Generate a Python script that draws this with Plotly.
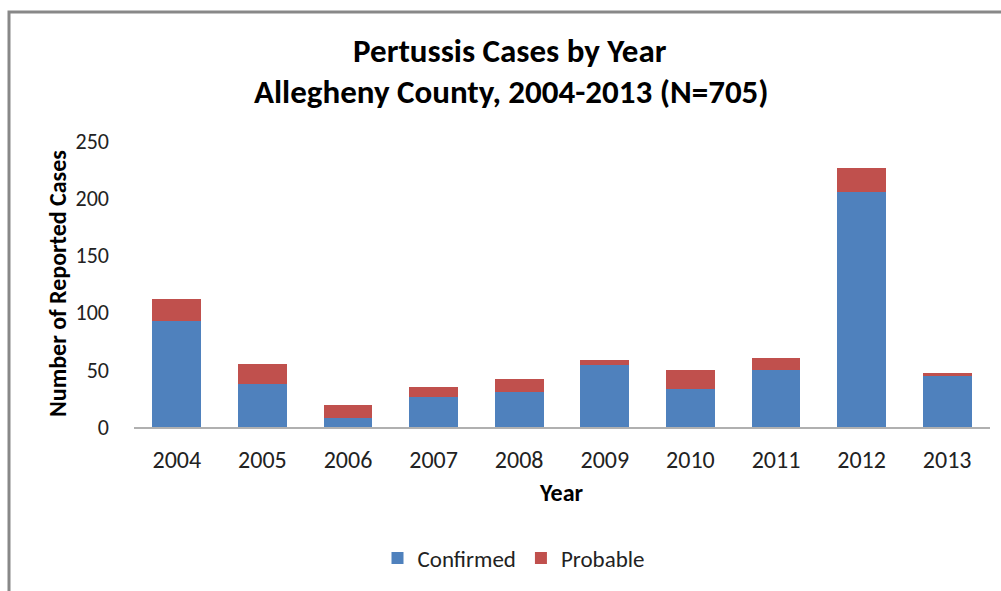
import plotly.graph_objects as go

years = ["2004", "2005", "2006", "2007", "2008", "2009", "2010", "2011", "2012", "2013"]
confirmed = [93, 38, 8, 26, 31, 54, 33, 50, 205, 45]
probable = [19, 17, 11, 9, 11, 5, 17, 10, 21, 2]
y_ticks = [0, 50, 100, 150, 200, 250]

FONT = "Calibri, Carlito, Lato, sans-serif"
BLUE = "#4F81BD"
RED = "#C0504D"

fig = go.Figure()
fig.add_trace(go.Bar(x=years, y=confirmed, name="Confirmed", marker=dict(color=BLUE, line=dict(width=0))))
fig.add_trace(go.Bar(x=years, y=probable, name="Probable", marker=dict(color=RED, line=dict(width=0))))

OFF = 0  # page body margin removed via post_script
W, H = 1001, 591
L, T = 134 - OFF, 141 - OFF
R = (OFF + W) - 990
B = (OFF + H) - 429
pw = W - L - R
ph = H - T - B

def px(x):
    return (x - OFF - L) / pw

def py(y):
    return (OFF + H - B - y) / ph

fig.update_layout(
    width=W, height=H,
    margin=dict(l=L, r=R, t=T, b=B, pad=0),
    barmode="stack",
    bargap=0.43,
    plot_bgcolor="white",
    paper_bgcolor="white",
    font=dict(family=FONT, size=22, color="#222222"),
    showlegend=True,
    legend=dict(orientation="h", x=px(514), xanchor="center", y=py(561), yanchor="middle",
                font=dict(family=FONT, size=23, color="#222222"), itemwidth=30,
                traceorder="normal"),
    xaxis=dict(showline=True, linecolor="#B0B0B0", linewidth=2, ticks="", showgrid=False,
               tickfont=dict(family=FONT, size=24, color="#222222"), ticklabelstandoff=10),
    yaxis=dict(range=[0, 250], tickvals=y_ticks, showline=False, showgrid=False, zeroline=False,
               ticks="", tickfont=dict(family=FONT, size=22, color="#222222"), ticklabelstandoff=24),
    shapes=[
        dict(type="path", xref="paper", yref="paper",
             path=f"M {px(9)},{py(600)} L {px(9)},{py(11)} L {px(1010)},{py(11)}",
             line=dict(color="#888888", width=3)),
    ],
    annotations=[
        dict(text="<b>Pertussis Cases by Year</b>", xref="paper", yref="paper", x=px(510), y=py(50),
             xanchor="center", yanchor="middle", showarrow=False, font=dict(family=FONT, size=33, color="#000000")),
        dict(text="<b>Allegheny County, 2004-2013 (N=705)</b>", xref="paper", yref="paper", x=px(511), y=py(92),
             xanchor="center", yanchor="middle", showarrow=False, font=dict(family=FONT, size=33, color="#000000")),
        dict(text="<b>Year</b>", xref="paper", yref="paper", x=px(561), y=py(495),
             xanchor="center", yanchor="middle", showarrow=False, font=dict(family=FONT, size=24, color="#000000")),
        dict(text="<b>Number of Reported Cases</b>", xref="paper", yref="paper", x=px(57), y=py(285),
             xanchor="center", yanchor="middle", textangle=-90, showarrow=False,
             font=dict(family=FONT, size=24, color="#000000")),
    ],
)

fig.write_html(
    "out.html",
    config={"displayModeBar": False},
    post_script="document.body.style.margin='0';document.body.style.overflow='hidden';",
)
